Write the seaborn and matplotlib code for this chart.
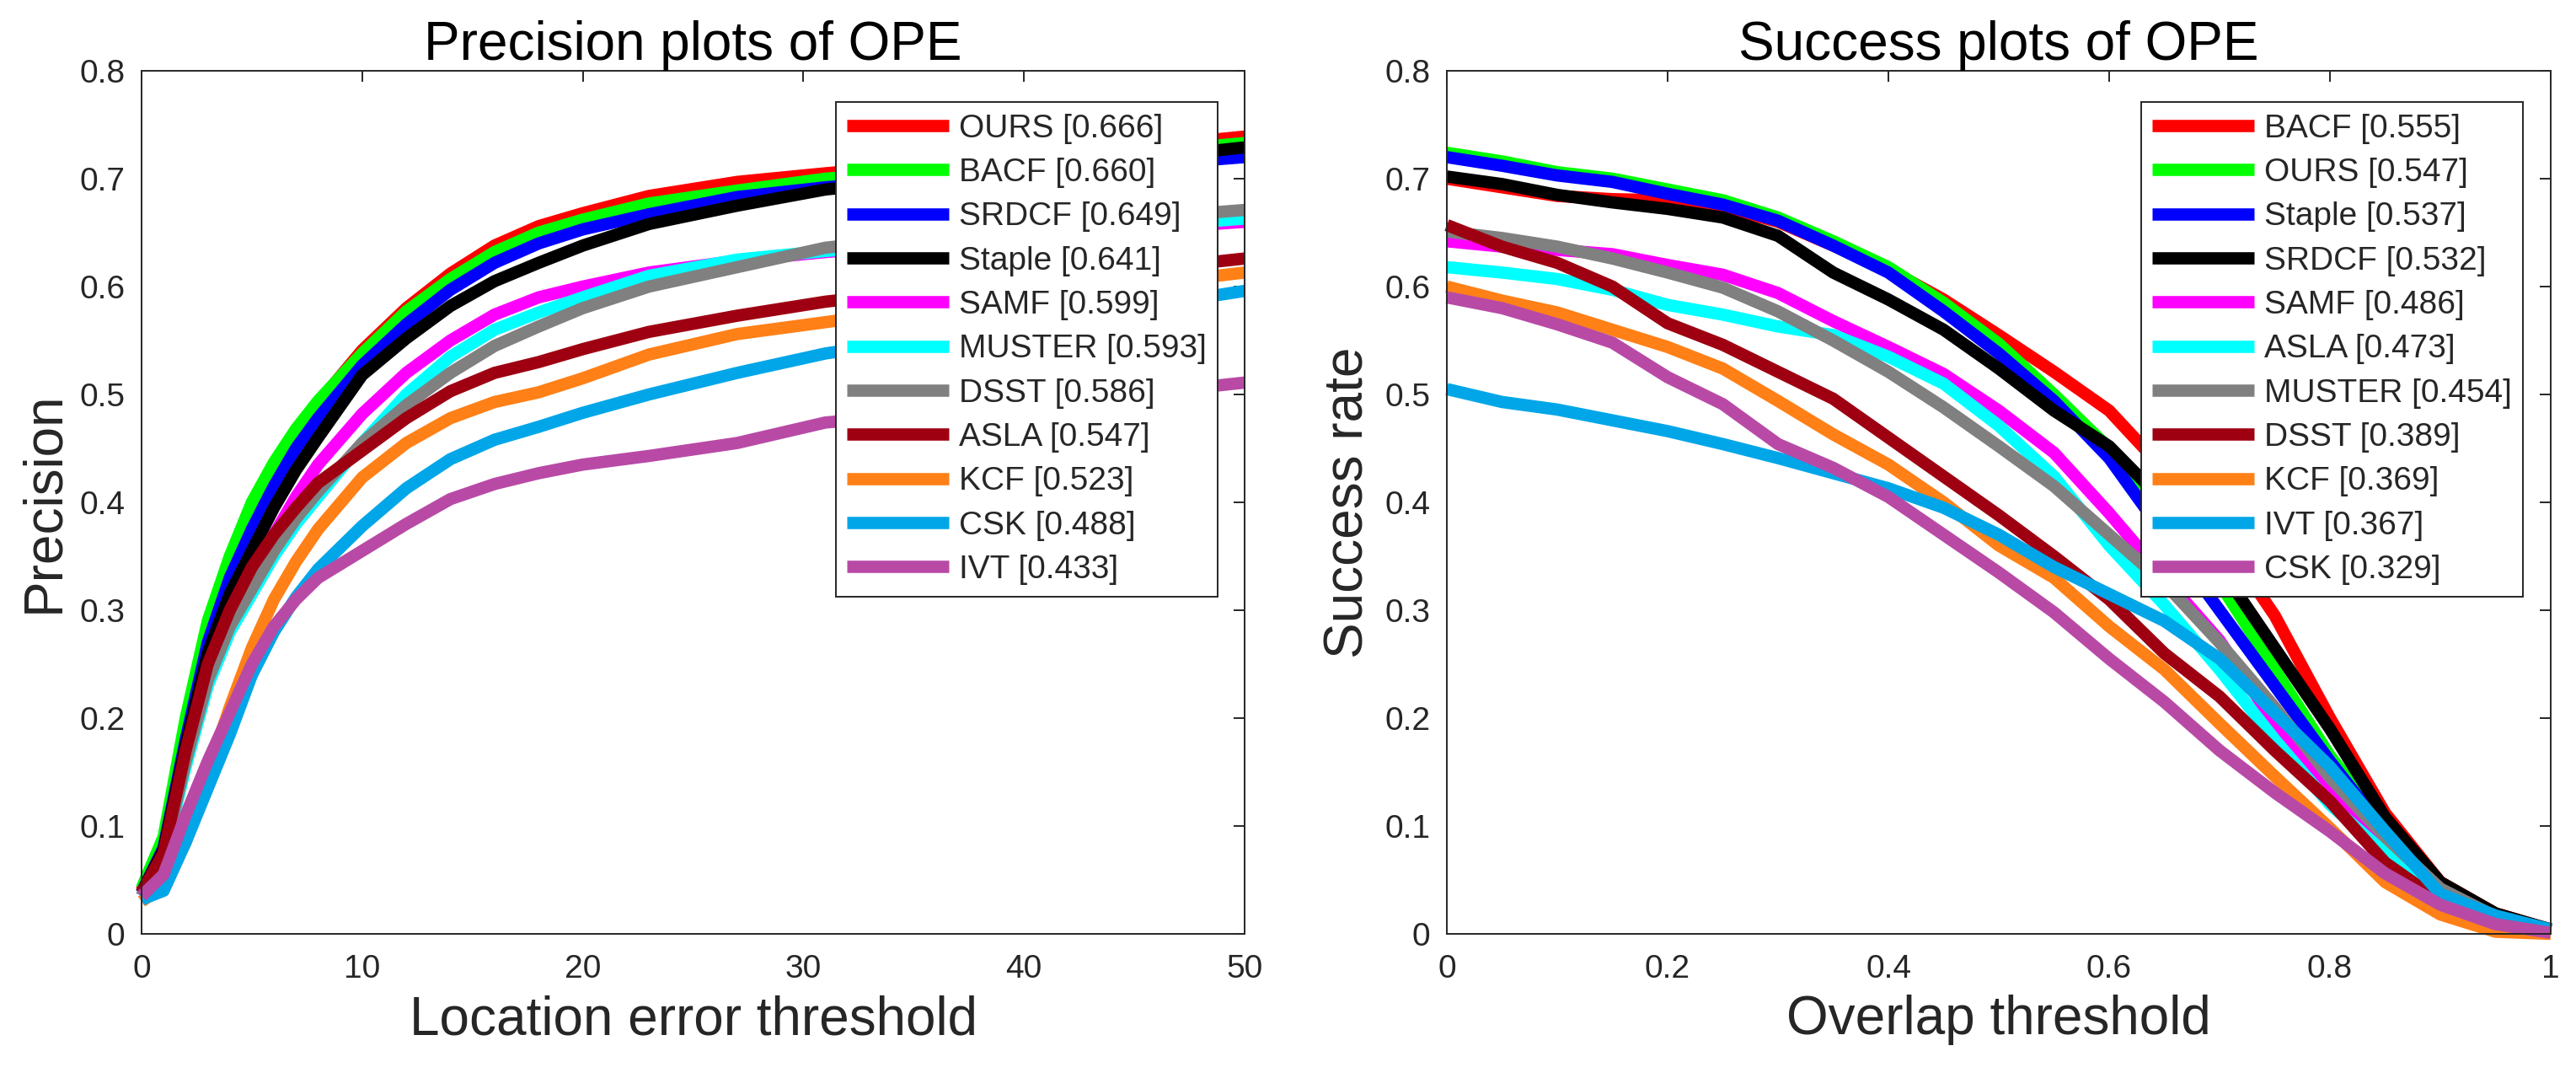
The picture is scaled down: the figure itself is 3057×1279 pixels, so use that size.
import numpy as np
import pandas as pd
import matplotlib
matplotlib.use("Agg")
import matplotlib.pyplot as plt
import seaborn as sns

# ---- precision plot data (location error threshold) ----
prec_x = [0, 1, 2, 3, 4, 5, 6, 7, 8, 10, 12, 14, 16, 18, 20, 23, 27, 31, 35, 40, 45, 50]
prec_names = ["OURS", "BACF", "SRDCF", "Staple", "SAMF", "MUSTER", "DSST", "ASLA", "KCF", "CSK", "IVT"]
prec_scores = [0.666, 0.660, 0.649, 0.641, 0.599, 0.593, 0.586, 0.547, 0.523, 0.488, 0.433]
prec_ours   = [0.040, 0.085, 0.190, 0.280, 0.340, 0.390, 0.430, 0.465, 0.492, 0.541, 0.580, 0.612, 0.638, 0.656, 0.668, 0.684, 0.697, 0.705, 0.712, 0.720, 0.729, 0.739]
prec_bacf   = [0.042, 0.090, 0.200, 0.290, 0.350, 0.400, 0.437, 0.468, 0.494, 0.538, 0.577, 0.607, 0.632, 0.650, 0.662, 0.677, 0.689, 0.700, 0.707, 0.716, 0.724, 0.733]
prec_srdcf  = [0.038, 0.080, 0.180, 0.270, 0.330, 0.375, 0.415, 0.450, 0.478, 0.527, 0.565, 0.597, 0.622, 0.640, 0.653, 0.667, 0.683, 0.692, 0.698, 0.705, 0.712, 0.720]
prec_staple = [0.038, 0.078, 0.175, 0.260, 0.315, 0.355, 0.395, 0.430, 0.460, 0.518, 0.552, 0.582, 0.605, 0.622, 0.638, 0.658, 0.675, 0.690, 0.698, 0.708, 0.718, 0.729]
prec_samf   = [0.035, 0.070, 0.160, 0.240, 0.290, 0.330, 0.370, 0.405, 0.435, 0.482, 0.520, 0.550, 0.574, 0.590, 0.600, 0.613, 0.624, 0.632, 0.638, 0.646, 0.653, 0.660]
prec_muster = [0.035, 0.070, 0.155, 0.230, 0.280, 0.315, 0.350, 0.380, 0.405, 0.455, 0.500, 0.535, 0.560, 0.576, 0.590, 0.610, 0.625, 0.633, 0.639, 0.647, 0.655, 0.663]
prec_dsst   = [0.035, 0.072, 0.160, 0.235, 0.285, 0.320, 0.355, 0.385, 0.410, 0.455, 0.490, 0.520, 0.545, 0.563, 0.580, 0.600, 0.618, 0.636, 0.645, 0.655, 0.663, 0.671]
prec_asla   = [0.038, 0.075, 0.170, 0.250, 0.300, 0.340, 0.370, 0.395, 0.418, 0.448, 0.478, 0.503, 0.520, 0.530, 0.542, 0.558, 0.573, 0.586, 0.595, 0.605, 0.615, 0.626]
prec_kcf    = [0.030, 0.045, 0.085, 0.150, 0.210, 0.265, 0.310, 0.345, 0.375, 0.423, 0.455, 0.478, 0.493, 0.502, 0.515, 0.537, 0.556, 0.567, 0.578, 0.590, 0.601, 0.613]
prec_csk    = [0.032, 0.040, 0.085, 0.135, 0.185, 0.240, 0.280, 0.312, 0.338, 0.378, 0.413, 0.440, 0.458, 0.470, 0.483, 0.500, 0.520, 0.538, 0.550, 0.565, 0.580, 0.596]
prec_ivt    = [0.035, 0.055, 0.110, 0.160, 0.205, 0.250, 0.285, 0.310, 0.330, 0.355, 0.380, 0.403, 0.417, 0.427, 0.435, 0.443, 0.455, 0.474, 0.481, 0.490, 0.500, 0.511]

# ---- success plot data (overlap threshold) ----
succ_x = [0.0, 0.05, 0.1, 0.15, 0.2, 0.25, 0.3, 0.35, 0.4, 0.45, 0.5, 0.55, 0.6, 0.65, 0.7, 0.75, 0.8, 0.85, 0.9, 0.95, 1.0]
succ_names = ["BACF", "OURS", "Staple", "SRDCF", "SAMF", "ASLA", "MUSTER", "DSST", "KCF", "IVT", "CSK"]
succ_scores = [0.555, 0.547, 0.537, 0.532, 0.486, 0.473, 0.454, 0.389, 0.369, 0.367, 0.329]
succ_bacf   = [0.700, 0.692, 0.684, 0.681, 0.680, 0.674, 0.660, 0.638, 0.616, 0.588, 0.555, 0.521, 0.485, 0.430, 0.370, 0.295, 0.200, 0.112, 0.048, 0.019, 0.004]
succ_ours   = [0.724, 0.716, 0.706, 0.700, 0.690, 0.680, 0.664, 0.642, 0.618, 0.585, 0.547, 0.500, 0.450, 0.390, 0.325, 0.245, 0.165, 0.100, 0.046, 0.018, 0.004]
succ_staple = [0.720, 0.712, 0.703, 0.697, 0.686, 0.676, 0.661, 0.638, 0.613, 0.577, 0.538, 0.494, 0.441, 0.370, 0.300, 0.230, 0.160, 0.095, 0.045, 0.018, 0.004]
succ_srdcf  = [0.702, 0.695, 0.685, 0.678, 0.672, 0.664, 0.647, 0.613, 0.588, 0.560, 0.524, 0.485, 0.452, 0.400, 0.340, 0.265, 0.190, 0.108, 0.048, 0.019, 0.004]
succ_samf   = [0.642, 0.637, 0.634, 0.630, 0.620, 0.611, 0.594, 0.568, 0.544, 0.519, 0.485, 0.446, 0.390, 0.330, 0.272, 0.195, 0.130, 0.078, 0.040, 0.015, 0.003]
succ_asla   = [0.618, 0.613, 0.607, 0.597, 0.583, 0.574, 0.563, 0.555, 0.535, 0.510, 0.471, 0.424, 0.360, 0.305, 0.245, 0.180, 0.120, 0.075, 0.038, 0.015, 0.003]
succ_muster = [0.651, 0.645, 0.637, 0.626, 0.613, 0.599, 0.577, 0.550, 0.521, 0.488, 0.452, 0.415, 0.370, 0.325, 0.270, 0.210, 0.145, 0.090, 0.042, 0.016, 0.003]
succ_dsst   = [0.657, 0.637, 0.622, 0.600, 0.566, 0.546, 0.521, 0.496, 0.460, 0.424, 0.388, 0.350, 0.310, 0.260, 0.220, 0.170, 0.123, 0.066, 0.030, 0.010, 0.002]
succ_kcf    = [0.600, 0.587, 0.576, 0.560, 0.544, 0.524, 0.494, 0.463, 0.435, 0.400, 0.360, 0.330, 0.285, 0.245, 0.195, 0.146, 0.098, 0.048, 0.018, 0.002, 0.000]
succ_ivt    = [0.505, 0.493, 0.486, 0.476, 0.466, 0.454, 0.441, 0.427, 0.413, 0.395, 0.370, 0.340, 0.315, 0.290, 0.255, 0.205, 0.155, 0.095, 0.037, 0.017, 0.004]
succ_csk    = [0.590, 0.580, 0.565, 0.548, 0.516, 0.491, 0.454, 0.432, 0.405, 0.370, 0.335, 0.298, 0.255, 0.215, 0.170, 0.131, 0.095, 0.056, 0.027, 0.009, 0.001]

# colours by rank (same in both panels)
rank_colors = ["#ff0000", "#00ff00", "#0000ff", "#000000", "#ff00ff", "#00ffff",
               "#808080", "#9e0012", "#ff8017", "#00a6e8", "#b84aa6"]

prec_curves = [prec_ours, prec_bacf, prec_srdcf, prec_staple, prec_samf, prec_muster,
               prec_dsst, prec_asla, prec_kcf, prec_csk, prec_ivt]
succ_curves = [succ_bacf, succ_ours, succ_staple, succ_srdcf, succ_samf, succ_asla,
               succ_muster, succ_dsst, succ_kcf, succ_ivt, succ_csk]


def long_df(xs, names, curves):
    rows = []
    for n, c in zip(names, curves):
        for x, v in zip(xs, c):
            rows.append((n, x, v))
    return pd.DataFrame(rows, columns=["tracker", "x", "y"])


sns.set_style("white")
plt.rcParams["font.family"] = ["Liberation Sans", "DejaVu Sans"]

DPI = 100
W, H = 3057, 1279
fig = plt.figure(figsize=(W / DPI, H / DPI), dpi=DPI)

ax1 = fig.add_axes([168 / W, 1 - 1108 / H, 1309 / W, 1024 / H])
ax2 = fig.add_axes([1717 / W, 1 - 1108 / H, 1310 / W, 1024 / H])

LW = 10.5
GRAY = "#262626"

panels = [
    (ax1, long_df(prec_x, prec_names, prec_curves), prec_names, prec_scores,
     "Precision plots of OPE", "Location error threshold", "Precision",
     (0, 50), [0, 10, 20, 30, 40, 50], ["0", "10", "20", "30", "40", "50"], 0.9756),
    (ax2, long_df(succ_x, succ_names, succ_curves), succ_names, succ_scores,
     "Success plots of OPE", "Overlap threshold", "Success rate",
     (0, 1), [0, 0.2, 0.4, 0.6, 0.8, 1.0], ["0", "0.2", "0.4", "0.6", "0.8", "1"], 0.9748),
]

for ax, df, names, scores, title, xlab, ylab, xlim, xt, xtl, lx in panels:
    sns.lineplot(data=df, x="x", y="y", hue="tracker", hue_order=names,
                 palette=rank_colors, linewidth=LW, estimator=None, sort=False,
                 legend=False, ax=ax)
    lines = ax.get_lines()
    for ln in lines:
        ln.set_clip_on(False)
        ln.set_solid_joinstyle("round")
        ln.set_solid_capstyle("butt")

    ax.set_xlim(*xlim)
    ax.set_ylim(0, 0.8)
    ax.set_xticks(xt)
    ax.set_xticklabels(xtl)
    ax.set_yticks([0, 0.1, 0.2, 0.3, 0.4, 0.5, 0.6, 0.7, 0.8])
    ax.set_yticklabels(["0", "0.1", "0.2", "0.3", "0.4", "0.5", "0.6", "0.7", "0.8"])
    ax.tick_params(direction="in", top=True, right=True, length=9.5, width=1.4,
                   color=GRAY, labelcolor=GRAY, labelsize=28)
    ax.tick_params(axis="x", pad=17)
    ax.tick_params(axis="y", pad=14)
    for sp in ax.spines.values():
        sp.set_color(GRAY)
        sp.set_linewidth(1.4)
        sp.set_visible(True)

    ax.set_title(title, fontsize=46, pad=9, color="black")
    ax.set_xlabel(xlab, fontsize=46, labelpad=9, color=GRAY)
    ax.set_ylabel(ylab, fontsize=46, labelpad=9, color=GRAY)

    labels = [f"{n} [{s:.3f}]" for n, s in zip(names, scores)]
    leg = ax.legend(lines, labels, loc="upper right", bbox_to_anchor=(lx, 0.9639),
                    borderaxespad=0, fontsize=28, frameon=True, fancybox=False,
                    framealpha=1, edgecolor=GRAY, handlelength=3.1,
                    handletextpad=0.3, labelspacing=0.42, borderpad=0.35)
    leg.get_frame().set_linewidth(1.4)

fig.savefig("out.png", dpi=DPI)
